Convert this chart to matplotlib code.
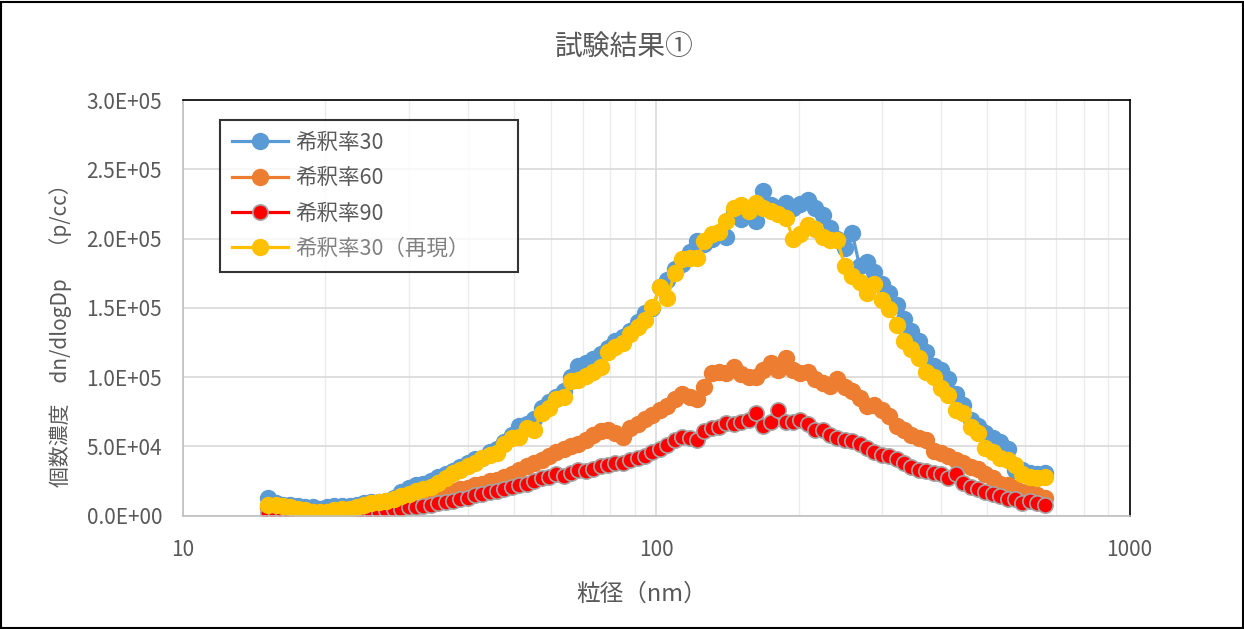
import matplotlib
matplotlib.use('Agg')
import matplotlib.pyplot as plt
from matplotlib.ticker import FuncFormatter, LogLocator, NullFormatter
from matplotlib.patches import Rectangle

plt.rcParams['font.family'] = ['Noto Sans CJK JP', 'DejaVu Sans']

# 粒径 (nm)
diameter = [15.1, 15.7, 16.3, 16.8, 17.5, 18.1, 18.8, 19.5, 20.2, 20.9,
            21.7, 22.5, 23.3, 24.1, 25.0, 25.9, 26.9, 27.9, 28.9, 30.0,
            31.1, 32.2, 33.4, 34.6, 35.9, 37.2, 38.5, 40.0, 41.4, 42.9,
            44.5, 46.1, 47.8, 49.6, 51.4, 53.3, 55.2, 57.3, 59.4, 61.5,
            63.8, 66.1, 68.5, 71.0, 73.7, 76.4, 79.1, 82.0, 85.1, 88.2,
            91.4, 94.7, 98.2, 101.8, 105.5, 109.4, 113.4, 117.6, 121.9, 126.3,
            131.0, 135.8, 140.7, 145.9, 151.2, 156.8, 162.5, 168.5, 174.7, 181.1,
            187.7, 194.6, 201.7, 209.1, 216.7, 224.7, 232.9, 241.4, 250.3, 259.5,
            269.0, 278.8, 289.0, 299.6, 310.6, 322.0, 333.8, 346.0, 358.7, 371.8,
            385.4, 399.5, 414.2, 429.4, 445.1, 461.4, 478.3, 495.8, 514.0, 532.8,
            552.3, 572.5, 593.5, 615.3, 637.8, 661.2]

# 個数濃度 (x1000 p/cc)
dil30 = [13, 9, 8, 8, 7, 6, 6, 5, 6, 7,
         7, 7, 8, 9, 10, 10, 11, 13, 17, 20,
         22, 23, 25, 28, 30, 32, 35, 38, 41, 42,
         46, 48, 53, 58, 65, 66, 70, 78, 82, 86,
         90, 100, 108, 110, 113, 117, 121, 126, 129, 133,
         140, 146, 150, 165, 170, 178, 182, 190, 198, 196,
         200, 204, 201, 220, 214, 218, 213, 234, 224, 222,
         226, 222, 225, 228, 222, 217, 208, 200, 193, 204,
         180, 183, 176, 167, 161, 152, 142, 133, 126, 118,
         108, 105, 99, 88, 80, 69, 65, 60, 56, 53,
         48, 33, 33, 31, 30, 31]

dil60 = [6, 6, 5, 5, 4, 3, 3, 2, 3, 3,
         3, 4, 4, 5, 5, 6, 7, 8, 9, 10,
         11, 12, 13, 15, 16, 18, 19, 20, 22, 23,
         25, 26, 28, 30, 33, 36, 38, 40, 43, 46,
         48, 50, 52, 55, 58, 61, 62, 60, 57, 63,
         66, 70, 73, 76, 79, 84, 88, 86, 84, 93,
         103, 104, 103, 107, 102, 100, 100, 105, 110, 105,
         114, 105, 103, 104, 99, 96, 94, 99, 93, 90,
         85, 79, 80, 76, 72, 65, 62, 58, 56, 55,
         47, 45, 43, 40, 38, 35, 34, 30, 27, 23,
         22, 20, 17, 17, 15, 13]

dil90 = [2, 1, 2, 1, 1, 1, 1, 0.5, 1, 1,
         1, 2, 2, 2, 3, 3, 4, 5, 5, 6,
         6, 7, 8, 9, 10, 11, 12, 13, 15, 16,
         17, 18, 19, 21, 22, 23, 25, 27, 28, 30,
         29, 31, 33, 32, 34, 36, 37, 38, 38, 40,
         42, 43, 46, 48, 51, 55, 57, 56, 55, 61,
         63, 64, 67, 66, 68, 69, 74, 65, 68, 76,
         68, 68, 69, 66, 62, 62, 58, 56, 55, 54,
         52, 49, 46, 44, 43, 41, 38, 35, 33, 32,
         31, 30, 27, 30, 24, 21, 19, 17, 16, 14,
         12, 12, 9, 11, 9, 8]

dil30_re = [8, 8, 7, 6, 5, 4, 3, 3, 3, 4,
            5, 5, 6, 8, 9, 10, 11, 12, 14, 16,
            18, 19, 21, 24, 27, 31, 33, 36, 38, 42,
            44, 45, 52, 56, 57, 63, 62, 74, 78, 84,
            86, 97, 98, 101, 104, 107, 118, 122, 125, 131,
            136, 141, 151, 165, 157, 175, 185, 186, 186, 198,
            203, 205, 213, 222, 224, 220, 226, 222, 220, 218,
            215, 200, 203, 210, 207, 201, 199, 199, 180, 173,
            169, 161, 167, 156, 149, 138, 126, 120, 114, 104,
            100, 92, 87, 76, 74, 64, 60, 49, 46, 42,
            40, 37, 30, 28, 27, 28]

labels = ['希釈率30', '希釈率60', '希釈率90', '希釈率30（再現）']
colors = ['#5b9bd5', '#ed7d31', '#ff0000', '#ffc000']

fig = plt.figure(figsize=(12.44, 6.29), dpi=100)
ax = fig.add_axes([0.147, 0.18, 0.761, 0.661])

series = [dil30, dil60, dil90, dil30_re]
for vals, lab, col in zip(series, labels, colors):
    y = [v * 1000 for v in vals]
    if col == '#ff0000':
        ax.plot(diameter, y, color=col, lw=2.3, marker='o', ms=11,
                mfc=col, mec='#a5a5a5', mew=1.2, label=lab)
    else:
        ax.plot(diameter, y, color=col, lw=2.3, marker='o', ms=11.5,
                mfc=col, mec=col, label=lab)

ax.set_xscale('log')
ax.set_xlim(10, 1000)
ax.set_ylim(0, 300000)
ax.set_yticks([0, 50000, 100000, 150000, 200000, 250000, 300000])
ax.yaxis.set_major_formatter(FuncFormatter(lambda v, p: f'{v:.1E}'))
ax.xaxis.set_major_locator(LogLocator(base=10, numticks=5))
ax.xaxis.set_minor_locator(LogLocator(base=10, subs=range(2, 10), numticks=20))
ax.xaxis.set_minor_formatter(NullFormatter())
ax.xaxis.set_major_formatter(FuncFormatter(lambda v, p: f'{v:g}'))

ax.grid(True, which='major', color='#d9d9d9', lw=1.2)
ax.grid(True, which='minor', axis='x', color='#ececec', lw=1.0)
ax.set_axisbelow(True)
ax.tick_params(which='both', length=0, labelsize=15, colors='#595959')
ax.tick_params(axis='y', pad=15)
ax.tick_params(axis='x', pad=17)

for s in ['top', 'right']:
    ax.spines[s].set_color('black')
    ax.spines[s].set_linewidth(1.2)
for s in ['left', 'bottom']:
    ax.spines[s].set_color('#bfbfbf')
    ax.spines[s].set_linewidth(1.2)

fig.text(0.502, 0.925, '試験結果①', fontsize=20, color='#595959',
         ha='center', va='center')
ax.set_xlabel('粒径（nm）', fontsize=17, color='#595959')
ax.xaxis.set_label_coords(0.485, -0.161)
ax.set_ylabel('個数濃度　dn/dlogDp　（p/cc）', fontsize=15, color='#595959')
ax.yaxis.set_label_coords(-0.117, 0.447)

leg = ax.legend(loc='upper left', bbox_to_anchor=(0.039, 0.577, 0.315, 0.375),
                mode='expand', fontsize=15.5, frameon=True, fancybox=False,
                edgecolor='black', borderpad=0.55, handlelength=2.6,
                handletextpad=0.35, labelspacing=0.62, borderaxespad=0)
leg.get_frame().set_linewidth(1.5)
for t, c in zip(leg.get_texts(), ['#595959', '#595959', '#595959', '#808080']):
    t.set_color(c)

fig.add_artist(Rectangle((0.001, 0.001), 0.998, 0.996, transform=fig.transFigure,
                         fill=False, edgecolor='black', lw=1.5))

fig.savefig('out.png', dpi=100)
